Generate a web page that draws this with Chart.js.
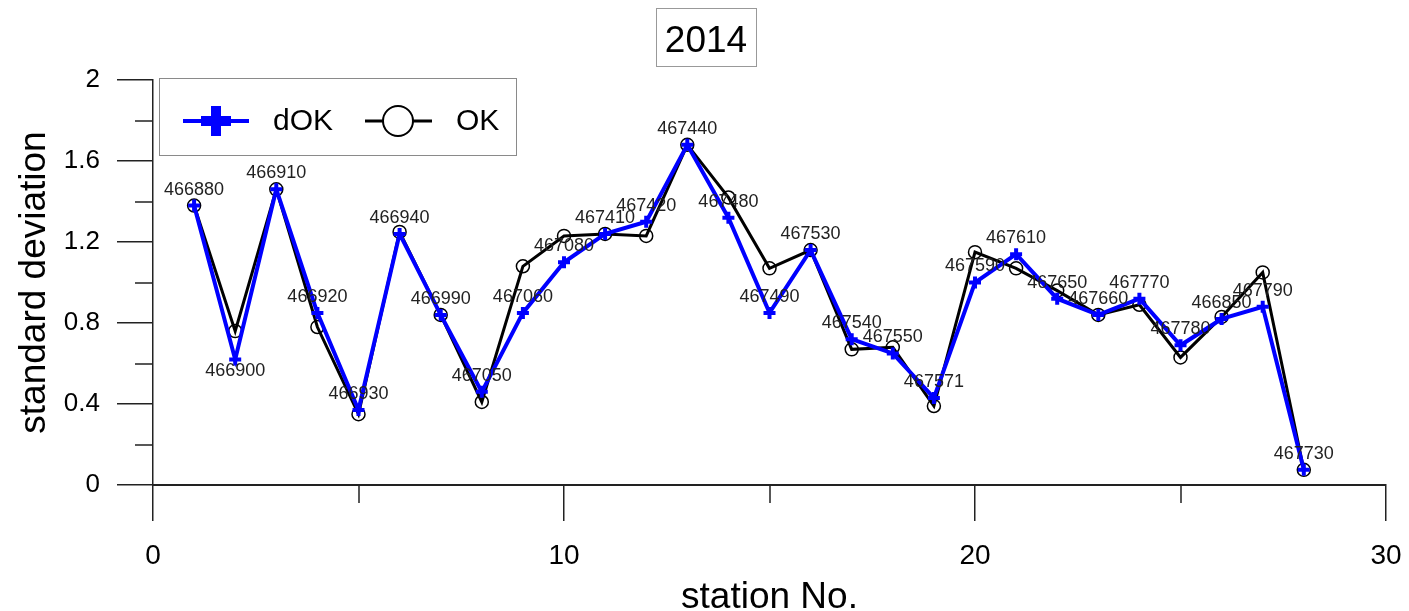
<!DOCTYPE html>
<html><head><meta charset="utf-8">
<script src="https://cdn.jsdelivr.net/npm/chart.js@4/dist/chart.umd.min.js"></script>
<style>html,body{margin:0;padding:0;background:#fff;overflow:hidden}canvas{display:block}</style>
</head><body>
<canvas id="c" width="1409" height="611"></canvas>
<script>
const chartTitle = '2014';
const xAxisTitle = 'station No.';
const yAxisTitle = 'standard deviation';
const stationNo = [1,2,3,4,5,6,7,8,9,10,11,12,13,14,15,16,17,18,19,20,21,22,23,24,25,26,27,28];
const stationIds = ['466880','466900','466910','466920','466930','466940','466990','467050','467060','467080','467410','467420','467440','467480','467490','467530','467540','467550','467571','467590','467610','467650','467660','467770','467780','466850','467790','467730'];
const dOK = [1.38,0.62,1.46,0.85,0.37,1.24,0.84,0.46,0.85,1.10,1.24,1.30,1.68,1.32,0.85,1.16,0.72,0.65,0.43,1.00,1.14,0.92,0.84,0.92,0.69,0.82,0.88,0.075];
const OK  = [1.38,0.76,1.46,0.78,0.35,1.25,0.84,0.41,1.08,1.23,1.24,1.23,1.68,1.42,1.07,1.16,0.67,0.68,0.39,1.15,1.07,0.96,0.84,0.89,0.63,0.83,1.05,0.075];
const xTicks = [0,10,20,30];
const xTickLabels = ['0','10','20','30'];
const xMinorTicks = [5,15,25];
const yTicks = [0,0.4,0.8,1.2,1.6,2];
const yTickLabels = ['0','0.4','0.8','1.2','1.6','2'];
const yMinorTicks = [0.2,0.6,1.0,1.4,1.8];

const FONT = "'Liberation Sans', Arial, Helvetica, sans-serif";

const titlePlugin = {
  id: 'boxTitle',
  afterDraw(chart) {
    const c = chart.ctx;
    c.save();
    c.strokeStyle = '#999'; c.lineWidth = 1;
    c.strokeRect(656.5, 8.5, 100, 58);
    c.fillStyle = '#000';
    c.font = '37px ' + FONT;
    c.textAlign = 'center'; c.textBaseline = 'alphabetic';
    c.fillText(chartTitle, 706, 52);
    c.restore();
  }
};

const minorTickPlugin = {
  id: 'minorTicks',
  afterDraw(chart) {
    const c = chart.ctx, xs = chart.scales.x, ys = chart.scales.y;
    c.save();
    c.strokeStyle = '#222'; c.lineWidth = 1.5;
    c.beginPath();
    yMinorTicks.forEach(v => { const y = Math.round(ys.getPixelForValue(v)); c.moveTo(xs.left - 18, y); c.lineTo(xs.left, y); });
    xMinorTicks.forEach(v => { const x = Math.round(xs.getPixelForValue(v)); c.moveTo(x, ys.bottom); c.lineTo(x, ys.bottom + 18); });
    c.stroke();
    c.restore();
  }
};

const stationLabelPlugin = {
  id: 'stationLabels',
  afterDatasetsDraw(chart, args, opts) {
    const c = chart.ctx, xs = chart.scales.x, ys = chart.scales.y;
    c.save();
    c.fillStyle = '#222';
    c.font = '18px ' + FONT;
    c.textAlign = 'center'; c.textBaseline = 'middle';
    stationIds.forEach((id, i) => {
      const x = xs.getPixelForValue(stationNo[i]);
      const below = opts.below.includes(i);
      const y = ys.getPixelForValue(dOK[i]) + (below ? 12 : -16);
      c.fillText(id, x, y);
    });
    c.restore();
  }
};

const legendPlugin = {
  id: 'boxLegend',
  afterDraw(chart) {
    const c = chart.ctx;
    const ds = chart.data.datasets;
    c.save();
    c.fillStyle = '#fff';
    c.fillRect(159, 78, 357, 77);
    c.strokeStyle = '#8a8a8a'; c.lineWidth = 1;
    c.strokeRect(159.5, 78.5, 357, 77);
    const cy = 121;
    c.strokeStyle = ds[0].borderColor; c.lineWidth = 4;
    c.beginPath(); c.moveTo(183, cy); c.lineTo(249, cy); c.stroke();
    c.lineWidth = 10; c.lineCap = 'butt';
    c.beginPath(); c.moveTo(216, cy - 15); c.lineTo(216, cy + 15); c.moveTo(201, cy); c.lineTo(231, cy); c.stroke();
    c.strokeStyle = ds[1].borderColor; c.lineWidth = 3;
    c.beginPath(); c.moveTo(365, cy); c.lineTo(432, cy); c.stroke();
    c.fillStyle = '#fff'; c.lineWidth = 2;
    c.beginPath(); c.arc(398, cy, 15, 0, Math.PI * 2); c.fill(); c.stroke();
    c.fillStyle = '#000';
    c.font = '30px ' + FONT;
    c.textAlign = 'left'; c.textBaseline = 'middle';
    c.fillText(ds[0].label, 273, cy + 1);
    c.fillText(ds[1].label, 456, cy + 1);
    c.restore();
  }
};

new Chart(document.getElementById('c'), {
  type: 'line',
  data: {
    datasets: [
      {
        label: 'dOK',
        data: stationNo.map((x, i) => ({x, y: dOK[i]})),
        borderColor: '#0000ff', backgroundColor: '#0000ff',
        borderWidth: 4, pointStyle: 'cross', pointRadius: 6, pointBorderWidth: 4,
        pointHoverRadius: 6, tension: 0, clip: false
      },
      {
        label: 'OK',
        data: stationNo.map((x, i) => ({x, y: OK[i]})),
        borderColor: '#000000', backgroundColor: 'rgba(0,0,0,0)',
        borderWidth: 3, pointStyle: 'circle', pointRadius: 6.5, pointBorderWidth: 1.5,
        pointBackgroundColor: 'rgba(0,0,0,0)', pointHoverRadius: 6.5, tension: 0, clip: false
      }
    ]
  },
  options: {
    responsive: false,
    animation: false,
    events: [],
    layout: { padding: { top: 80, right: 23, left: 0, bottom: 0 } },
    plugins: {
      legend: { display: false },
      title: { display: false },
      tooltip: { enabled: false },
      stationLabels: { below: [1] }
    },
    scales: {
      x: {
        type: 'linear', min: 0, max: 30,
        afterFit: s => { s.height = 126; s.paddingLeft = 0; s.paddingRight = 0; },
        afterBuildTicks: s => { s.ticks = xTicks.map(v => ({value: v})); },
        grid: { drawOnChartArea: false, drawTicks: true, tickLength: 36, color: '#222', lineWidth: 1.5 },
        border: { display: true, color: '#222', width: 2 },
        ticks: { color: '#000', font: { family: FONT, size: 28 }, padding: 18, maxRotation: 0,
                 callback: (v) => xTickLabels[xTicks.indexOf(v)] },
        title: { display: true, text: xAxisTitle, color: '#000', font: { family: FONT, size: 37, lineHeight: 1 }, padding: { top: 0, bottom: -5 } }
      },
      y: {
        type: 'linear', min: 0, max: 2,
        afterFit: s => { s.width = 153; s.paddingTop = 0; s.paddingBottom = 0; },
        afterBuildTicks: s => { s.ticks = yTicks.map(v => ({value: v})); },
        grid: { drawOnChartArea: false, drawTicks: true, tickLength: 36, color: '#222', lineWidth: 1.5 },
        border: { display: true, color: '#222', width: 1.5 },
        ticks: { color: '#000', font: { family: FONT, size: 26 }, padding: 17,
                 callback: (v) => yTickLabels[yTicks.indexOf(v)] },
        title: { display: true, text: yAxisTitle, color: '#000', font: { family: FONT, size: 37, lineHeight: 1 }, padding: { top: 16, bottom: 0 } }
      }
    }
  },
  plugins: [titlePlugin, minorTickPlugin, stationLabelPlugin, legendPlugin]
});
</script>
</body></html>
